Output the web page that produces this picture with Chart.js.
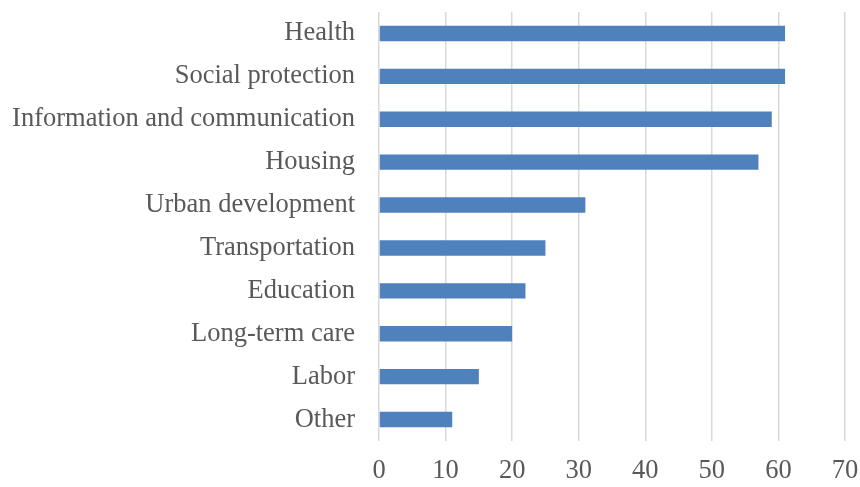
<!DOCTYPE html>
<html>
<head>
<meta charset="utf-8">
<script src="https://cdn.jsdelivr.net/npm/chart.js@4"></script>
<style>
  html, body { margin: 0; padding: 0; background: #fff; }
  #box { width: 860px; height: 487px; }
</style>
</head>
<body>
<div id="box"><canvas id="barChart" width="860" height="487"></canvas></div>
<script>
// sectors and counts, top to bottom
const sectors = [
  "Health",
  "Social protection",
  "Information and communication",
  "Housing",
  "Urban development",
  "Transportation",
  "Education",
  "Long-term care",
  "Labor",
  "Other"
];
const counts = [61, 61, 59, 57, 31, 25, 22, 20, 15, 11];
const xTicks = [0, 10, 20, 30, 40, 50, 60, 70];

const labelFont = { family: "'Liberation Serif', 'Times New Roman', serif", size: 26.5 };

new Chart(document.getElementById("barChart"), {
  type: "bar",
  data: {
    labels: sectors,
    datasets: [{
      data: counts,
      backgroundColor: "#4F81BD",
      borderWidth: 0,
      categoryPercentage: 1,
      barPercentage: 0.36
    }]
  },
  options: {
    indexAxis: "y",
    responsive: false,
    animation: false,
    layout: { padding: { top: 12, right: 15, bottom: 0, left: 0 } },
    plugins: { legend: { display: false }, tooltip: { enabled: false } },
    scales: {
      x: {
        min: 0,
        max: 70,
        afterBuildTicks: axis => { axis.ticks = xTicks.map(v => ({ value: v })); },
        afterFit: axis => {
          axis.height = 46;
          axis.paddingLeft = 0;
          axis.paddingRight = 0;
        },
        grid: { color: "#D9D9D9", lineWidth: 1.5, drawTicks: false },
        border: { display: false },
        ticks: { color: "#595959", font: labelFont, padding: 14, maxRotation: 0 }
      },
      y: {
        afterFit: axis => {
          axis.width = 379;
          axis.paddingTop = 0;
          axis.paddingBottom = 0;
        },
        grid: { display: false, drawTicks: false },
        border: { display: false },
        ticks: { color: "#595959", font: labelFont, padding: 24 }
      }
    }
  }
});
</script>
</body>
</html>
